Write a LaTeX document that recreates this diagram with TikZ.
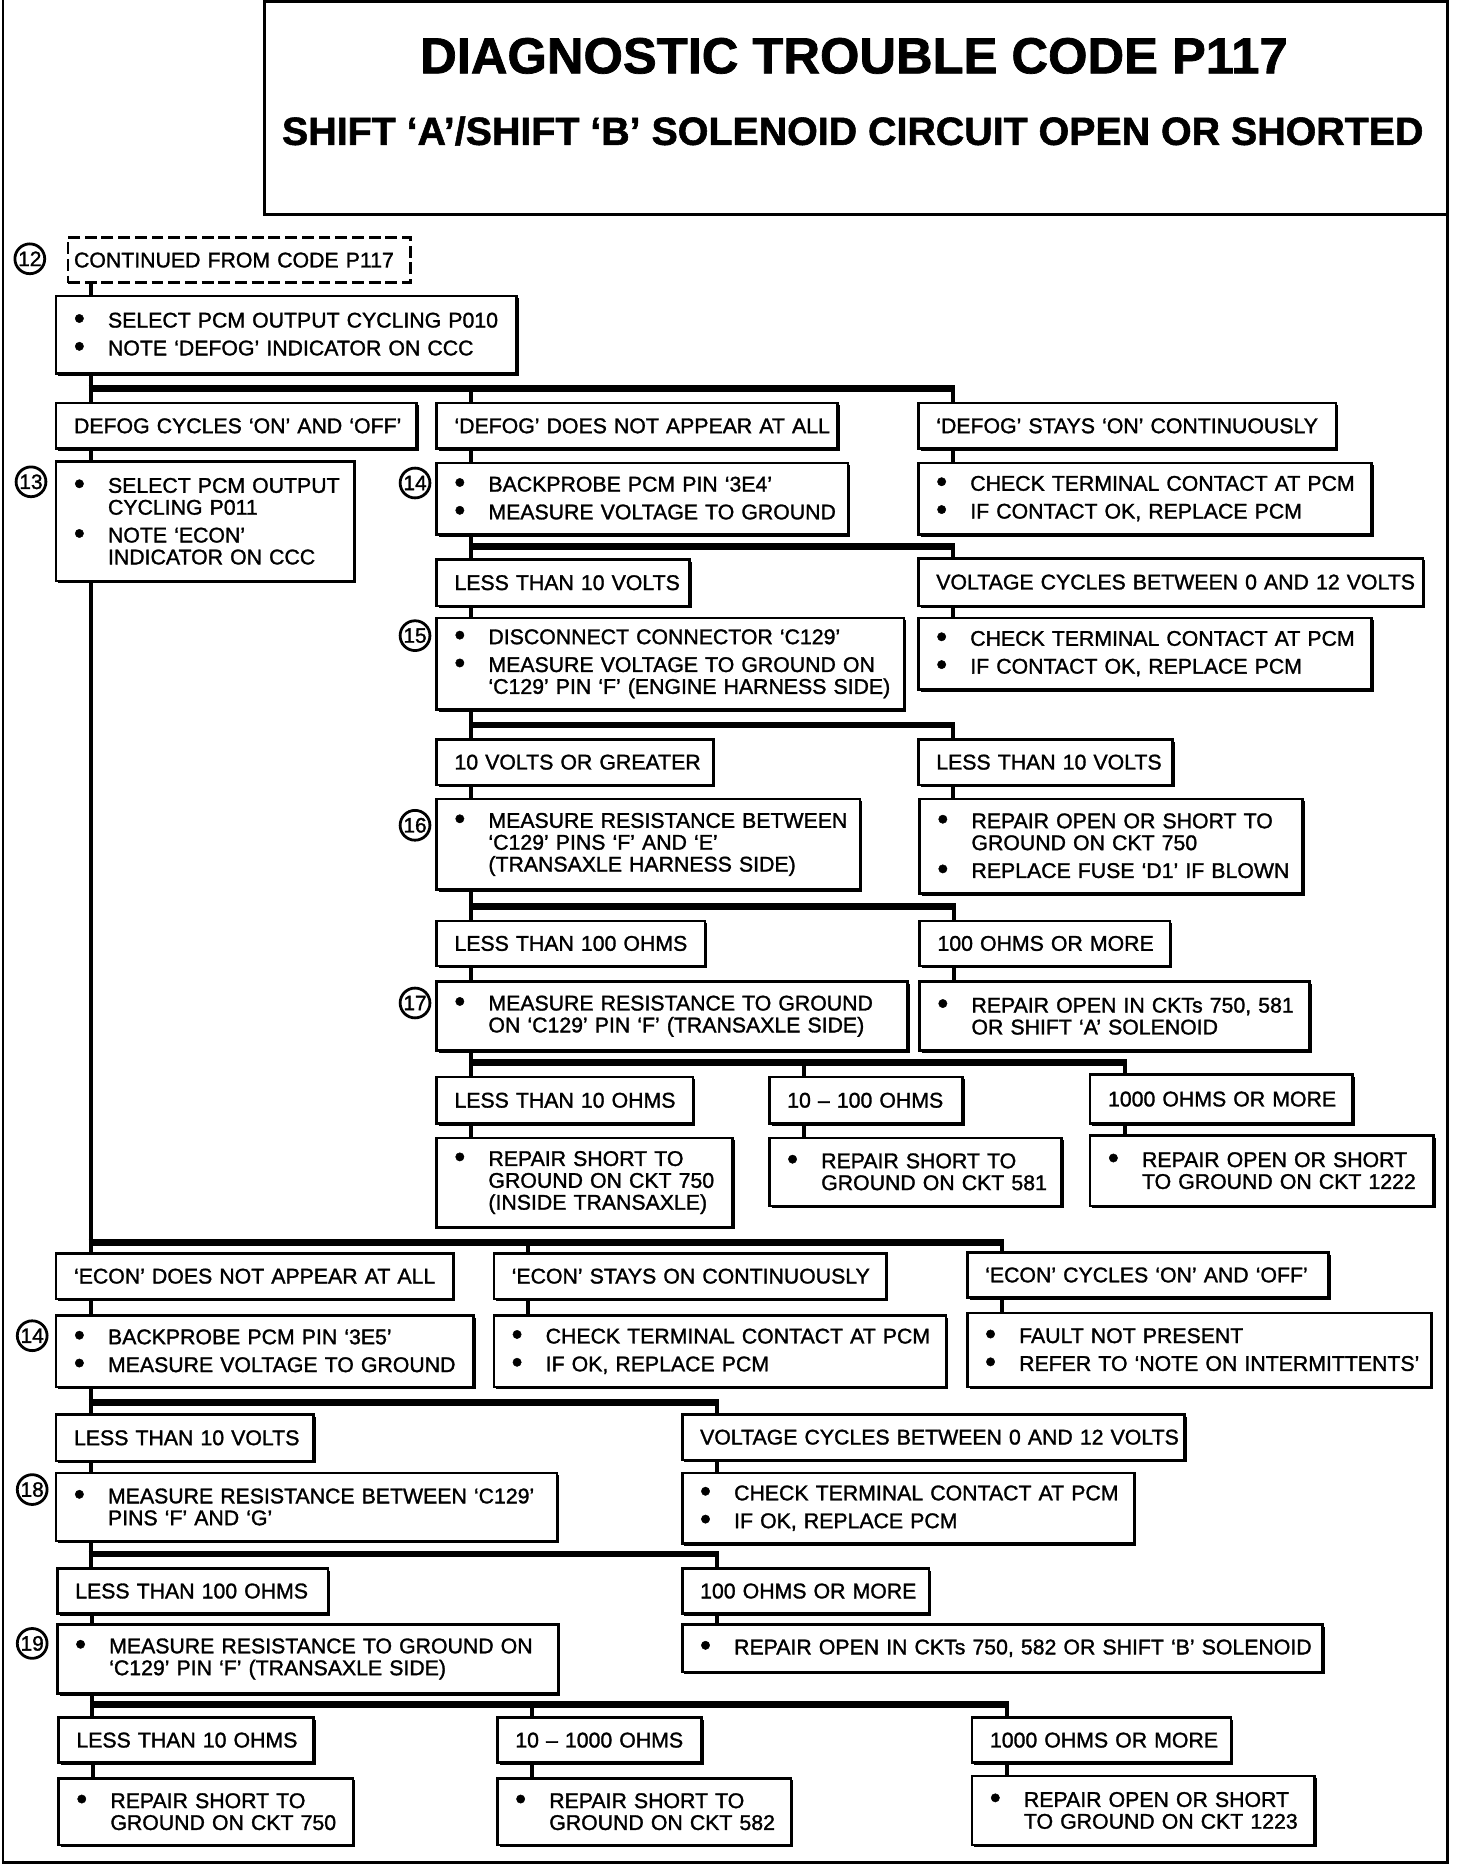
\documentclass[tikz,border=0pt]{standalone}
\usepackage{fontspec}
\setmainfont{Liberation Sans}[RawFeature={embolden=1.4}]
\usetikzlibrary{shadows}
\newcommand\boxfont{\fontsize{10.7}{11}\selectfont}
\newcommand\bul{\makebox[23.4pt][c]{\raisebox{-0.6pt}{\scalebox{1.45}{\textbullet}}}\hspace*{2.7pt}}
\newcommand\ind{\hspace*{26.1pt}}
\tikzset{
  plain/.style={draw, line width=1.3pt, fill=white, inner sep=0pt, align=left,
    anchor=north west, font=\boxfont},
  panel/.style={plain, drop shadow={shadow xshift=1.1pt, shadow yshift=-1.1pt, fill=black, opacity=1}},
  cond/.style={panel, execute at begin node={\hspace*{9pt}}},
  cell/.style n args={4}{at={(#1,#2)},
    minimum width={(#3-#1)*0.6pt}, minimum height={(#4-#2)*0.6pt},
    text width={(#3-#1)*0.6pt}},
  num/.style={draw, circle, line width=1.4pt, inner sep=0pt, minimum size=15pt,
    font=\fontsize{10.5}{10.5}\selectfont},
  wire/.style={line width=2pt},
  bus/.style={line width=3.4pt, shorten <=-1pt, shorten >=-1pt},
  outline/.style={line width=1.3pt},
}
\begin{document}
\begin{tikzpicture}[x=0.6pt, y=-0.6pt]
\useasboundingbox (0,0) rectangle (1221,1568);
%% frame and heading
\draw[outline] (2.5,0) -- (2.5,1561.5) -- (1213.5,1561.5) -- (1213.5,1.5) -- (222,1.5) -- (222,180) -- (1213.5,180);
\node[font=\fontsize{25.5}{26}\selectfont\bfseries, anchor=base] (title) at (716,61.5) {DIAGNOSTIC TROUBLE CODE P117};
\node[font=\fontsize{19.8}{20}\selectfont\bfseries, anchor=base] (subtitle) at (715,121.5) {SHIFT `A'/SHIFT `B' SOLENOID CIRCUIT OPEN OR SHORTED};
%% ------------------------------------------------------------------ DEFOG
\node[plain, cell={56}{198}{343}{236}, dash pattern=on 6pt off 2.4pt,
  execute at begin node={\hspace*{3pt}}] (cont) {CONTINUED FROM CODE P117};
\node[num] (c12) at (25,217) {12};
\node[panel, cell={46}{247}{432}{312}] (sel1) {\bul SELECT PCM OUTPUT CYCLING P010\\[3pt]\bul NOTE `DEFOG' INDICATOR ON CCC};
\node[cond, cell={46}{337}{348}{375}] (defogcyc) {DEFOG CYCLES `ON' AND `OFF'};
\node[cond, cell={365}{337}{701}{375}] (defogno) {`DEFOG' DOES NOT APPEAR AT ALL};
\node[cond, cell={769}{337}{1119}{375}] (defogon) {`DEFOG' STAYS `ON' CONTINUOUSLY};
\node[num] (c13) at (26,404) {13};
\node[panel, cell={46}{386}{296}{486}] (sel2) {\bul SELECT PCM OUTPUT\\\ind CYCLING P011\\[3pt]\bul NOTE `ECON'\\\ind INDICATOR ON CCC};
\node[num] (c14) at (348,405) {14};
\node[panel, cell={365}{387}{710}{447}] (probe1) {\bul BACKPROBE PCM PIN `3E4'\\[3pt]\bul MEASURE VOLTAGE TO GROUND};
\node[panel, cell={769}{387}{1149}{447}] (chk1) {\bul CHECK TERMINAL CONTACT AT PCM\\[3pt]\bul IF CONTACT OK, REPLACE PCM};
\node[cond, cell={365}{468}{577}{507}] (lt10v) {LESS THAN 10 VOLTS};
\node[cond, cell={769}{467}{1192}{507}] (vcyc1) {VOLTAGE CYCLES BETWEEN 0 AND 12 VOLTS};
\node[num] (c15) at (348,533) {15};
\node[panel, cell={365}{517}{757}{594}] (disc) {\bul DISCONNECT CONNECTOR `C129'\\[3pt]\bul MEASURE VOLTAGE TO GROUND ON\\\ind `C129' PIN `F' (ENGINE HARNESS SIDE)};
\node[panel, cell={769}{517}{1149}{577}] (chk2) {\bul CHECK TERMINAL CONTACT AT PCM\\[3pt]\bul IF CONTACT OK, REPLACE PCM};
\node[cond, cell={365}{619}{597}{657}] (ge10v) {10 VOLTS OR GREATER};
\node[cond, cell={769}{619}{982}{657}] (lt10vb) {LESS THAN 10 VOLTS};
\node[num] (c16) at (348,692) {16};
\node[panel, cell={365}{669}{720}{745}] (res1) {\bul MEASURE RESISTANCE BETWEEN\\\ind `C129' PINS `F' AND `E'\\\ind (TRANSAXLE HARNESS SIDE)};
\node[panel, cell={770}{669}{1091}{748}] (rep1) {\bul REPAIR OPEN OR SHORT TO\\\ind GROUND ON CKT 750\\[3pt]\bul REPLACE FUSE `D1' IF BLOWN};
\node[cond, cell={365}{771}{590}{809}] (lt100) {LESS THAN 100 OHMS};
\node[cond, cell={770}{771}{980}{809}] (ge100) {100 OHMS OR MORE};
\node[num] (c17) at (348,841) {17};
\node[panel, cell={365}{822}{760}{880}] (resg1) {\bul MEASURE RESISTANCE TO GROUND\\\ind ON `C129' PIN `F' (TRANSAXLE SIDE)};
\node[panel, cell={770}{822}{1097}{880}] (rep2) {\bul REPAIR OPEN IN CKTs 750, 581\\\ind OR SHIFT `A' SOLENOID};
\node[cond, cell={365}{902}{580}{941}] (lt10o) {LESS THAN 10 OHMS};
\node[cond, cell={644}{902}{806}{941}] (o10100) {10 -- 100 OHMS};
\node[cond, cell={913}{900}{1133}{941}] (ge1000) {1000 OHMS OR MORE};
\node[panel, cell={365}{953}{613}{1028}] (rs750) {\bul REPAIR SHORT TO\\\ind GROUND ON CKT 750\\\ind (INSIDE TRANSAXLE)};
\node[panel, cell={644}{953}{889}{1010}] (rs581) {\bul REPAIR SHORT TO\\\ind GROUND ON CKT 581};
\node[panel, cell={913}{951}{1201}{1010}] (ro1222) {\bul REPAIR OPEN OR SHORT\\\ind TO GROUND ON CKT 1222};
%% ------------------------------------------------------------------ ECON
\node[cond, cell={46}{1050}{379}{1088}] (econno) {`ECON' DOES NOT APPEAR AT ALL};
\node[cond, cell={413}{1050}{742}{1088}] (econon) {`ECON' STAYS ON CONTINUOUSLY};
\node[cond, cell={810}{1049}{1113}{1087}] (econcyc) {`ECON' CYCLES `ON' AND `OFF'};
\node[num] (c14b) at (27,1120) {14};
\node[panel, cell={46}{1102}{396}{1162}] (probe2) {\bul BACKPROBE PCM PIN `3E5'\\[3pt]\bul MEASURE VOLTAGE TO GROUND};
\node[panel, cell={413}{1102}{792}{1162}] (chk3) {\bul CHECK TERMINAL CONTACT AT PCM\\[3pt]\bul IF OK, REPLACE PCM};
\node[panel, cell={810}{1100}{1199}{1162}] (fault) {\bul FAULT NOT PRESENT\\[3pt]\bul REFER TO `NOTE ON INTERMITTENTS'};
\node[cond, cell={46}{1185}{262}{1224}] (lt10v2) {LESS THAN 10 VOLTS};
\node[cond, cell={571}{1185}{992}{1223}] (vcyc2) {VOLTAGE CYCLES BETWEEN 0 AND 12 VOLTS};
\node[num] (c18) at (27,1249) {18};
\node[panel, cell={46}{1234}{466}{1291}] (res2) {\bul MEASURE RESISTANCE BETWEEN `C129'\\\ind PINS `F' AND `G'};
\node[panel, cell={571}{1234}{950}{1293}] (chk4) {\bul CHECK TERMINAL CONTACT AT PCM\\[3pt]\bul IF OK, REPLACE PCM};
\node[cond, cell={47}{1314}{274}{1352}] (lt100b) {LESS THAN 100 OHMS};
\node[cond, cell={571}{1314}{778}{1352}] (ge100b) {100 OHMS OR MORE};
\node[num] (c19) at (27,1378) {19};
\node[panel, cell={47}{1361}{467}{1419}] (resg2) {\bul MEASURE RESISTANCE TO GROUND ON\\\ind `C129' PIN `F' (TRANSAXLE SIDE)};
\node[panel, cell={571}{1361}{1108}{1401}] (rep3) {\bul REPAIR OPEN IN CKTs 750, 582 OR SHIFT `B' SOLENOID};
\node[cond, cell={48}{1439}{262}{1477}] (lt10ob) {LESS THAN 10 OHMS};
\node[cond, cell={416}{1439}{587}{1477}] (o101000) {10 -- 1000 OHMS};
\node[cond, cell={814}{1439}{1031}{1477}] (ge1000b) {1000 OHMS OR MORE};
\node[panel, cell={48}{1490}{295}{1546}] (rs750b) {\bul REPAIR SHORT TO\\\ind GROUND ON CKT 750};
\node[panel, cell={416}{1490}{662}{1546}] (rs582) {\bul REPAIR SHORT TO\\\ind GROUND ON CKT 582};
\node[panel, cell={814}{1488}{1101}{1546}] (ro1223) {\bul REPAIR OPEN OR SHORT\\\ind TO GROUND ON CKT 1223};
%% ------------------------------------------------------------------ connectors
% the tap of every box, 30px in from its left side
\foreach \n in {sel1,defogcyc,defogno,defogon,sel2,probe1,chk1,lt10v,vcyc1,disc,chk2,
  ge10v,lt10vb,res1,rep1,lt100,ge100,resg1,rep2,lt10o,o10100,ge1000,rs750,rs581,ro1222,
  econno,econon,econcyc,probe2,chk3,fault,lt10v2,vcyc2,res2,chk4,lt100b,ge100b,resg2,rep3,
  lt10ob,o101000,ge1000b,rs750b,rs582,ro1223}
  \coordinate (\n-t) at ([xshift=18pt]\n.north west);
% straight runs, one box to the next
\draw[wire] (sel1-t |- cont.south) -- (sel1-t);
\foreach \a/\b in {defogcyc/sel2,defogno/probe1,defogon/chk1,lt10v/disc,vcyc1/chk2,
  ge10v/res1,lt10vb/rep1,lt100/resg1,ge100/rep2,lt10o/rs750,o10100/rs581,ge1000/ro1222,
  econno/probe2,econon/chk3,econcyc/fault,lt10v2/res2,vcyc2/chk4,lt100b/resg2,ge100b/rep3,
  lt10ob/rs750b,o101000/rs582,ge1000b/ro1223}
  \draw[wire] (\a-t |- \a.south) -- (\a-t |- \b.north);
% forks: bus level, parent, last child
\coordinate (bus1) at (0,326);
\draw[wire] (sel1-t |- sel1.south) -- (sel1-t |- defogcyc.north);
\draw[bus] (sel1-t |- bus1) -- (defogon-t |- bus1);
\foreach \k in {defogno,defogon} \draw[wire] (\k-t |- bus1) -- (\k-t);
\coordinate (bus2) at (0,458);
\draw[wire] (probe1-t |- probe1.south) -- (probe1-t |- lt10v.north);
\draw[bus] (probe1-t |- bus2) -- (vcyc1-t |- bus2);
\draw[wire] (vcyc1-t |- bus2) -- (vcyc1-t);
\coordinate (bus3) at (0,608);
\draw[wire] (disc-t |- disc.south) -- (disc-t |- ge10v.north);
\draw[bus] (disc-t |- bus3) -- (lt10vb-t |- bus3);
\draw[wire] (lt10vb-t |- bus3) -- (lt10vb-t);
\coordinate (bus4) at (0,760);
\draw[wire] (res1-t |- res1.south) -- (res1-t |- lt100.north);
\draw[bus] (res1-t |- bus4) -- (ge100-t |- bus4);
\draw[wire] (ge100-t |- bus4) -- (ge100-t);
\coordinate (bus5) at (0,891);
\draw[wire] (resg1-t |- resg1.south) -- (resg1-t |- lt10o.north);
\draw[bus] (resg1-t |- bus5) -- (ge1000-t |- bus5);
\foreach \k in {o10100,ge1000} \draw[wire] (\k-t |- bus5) -- (\k-t);
\coordinate (bus6) at (0,1042);
\draw[wire] (sel2-t |- sel2.south) -- (sel2-t |- econno.north);
\draw[bus] (sel2-t |- bus6) -- (econcyc-t |- bus6);
\foreach \k in {econon,econcyc} \draw[wire] (\k-t |- bus6) -- (\k-t);
\coordinate (bus7) at (0,1176);
\draw[wire] (probe2-t |- probe2.south) -- (probe2-t |- lt10v2.north);
\draw[bus] (probe2-t |- bus7) -- (vcyc2-t |- bus7);
\draw[wire] (vcyc2-t |- bus7) -- (vcyc2-t);
\coordinate (bus8) at (0,1303);
\draw[wire] (res2-t |- res2.south) -- (res2-t |- lt100b.north);
\draw[bus] (res2-t |- bus8) -- (ge100b-t |- bus8);
\draw[wire] (ge100b-t |- bus8) -- (ge100b-t);
\coordinate (bus9) at (0,1429);
\draw[wire] (resg2-t |- resg2.south) -- (resg2-t |- lt10ob.north);
\draw[bus] (resg2-t |- bus9) -- (ge1000b-t |- bus9);
\foreach \k in {o101000,ge1000b} \draw[wire] (\k-t |- bus9) -- (\k-t);
\end{tikzpicture}
\end{document}
